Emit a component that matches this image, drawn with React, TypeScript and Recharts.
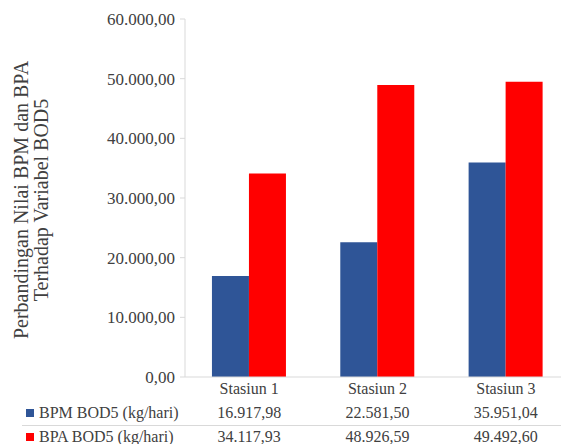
import React from 'react';
import { BarChart, Bar, XAxis, YAxis } from 'recharts';

const categories = ['Stasiun 1', 'Stasiun 2', 'Stasiun 3'];
const bpmValues = [16917.98, 22581.5, 35951.04];
const bpaValues = [34117.93, 48926.59, 49492.6];
const yTicks = [0, 10000, 20000, 30000, 40000, 50000, 60000];
const seriesNames = ['BPM BOD5 (kg/hari)', 'BPA BOD5 (kg/hari)'];
const titleLines = ['Perbandingan Nilai BPM dan BPA', 'Terhadap Variabel BOD5'];

const BLUE = '#2F5597';
const RED = '#FF0000';
const TEXT = '#404040';
const GRID = '#D9D9D9';
const FONT = '"Liberation Serif", "Times New Roman", serif';

const data = categories.map((name, i) => ({ name, bpm: bpmValues[i], bpa: bpaValues[i] }));

// indonesian number format: 60.000,00
const fmt = (v: number) => {
  const [int, dec] = v.toFixed(2).split('.');
  return int.replace(/\B(?=(\d{3})+(?!\d))/g, '.') + ',' + dec;
};

const TableTick = (props: any) => {
  const { x, y, payload, index } = props;
  return (
    <g fontFamily={FONT} fontSize={16} fill={TEXT}>
      <text x={x} y={y + 17} textAnchor="middle">{payload.value}</text>
      <text x={x} y={y + 41} textAnchor="middle">{fmt(bpmValues[index])}</text>
      <text x={x} y={y + 65} textAnchor="middle">{fmt(bpaValues[index])}</text>
    </g>
  );
};

const YTitle = (props: any) => {
  const vb = props.viewBox || { x: 0, y: 19, width: 185, height: 358 };
  const cy = vb.y + vb.height / 2 + 2;
  return (
    <g fontFamily={FONT} fontSize={20} fill={TEXT}>
      {titleLines.map((line, i) => {
        const cx = 21 + i * 20;
        return (
          <text
            key={line}
            x={cx}
            y={cy}
            textAnchor="middle"
            dominantBaseline="central"
            transform={`rotate(-90 ${cx} ${cy})`}
          >
            {line}
          </text>
        );
      })}
    </g>
  );
};

const TableLegend = () => (
  <svg width={570} height={49} style={{ position: 'absolute', left: 0, top: 395 }}>
    <g fontFamily={FONT} fontSize={16} fill={TEXT}>
      <rect x={26} y={14} width={8} height={8} fill={BLUE} />
      <text x={39} y={23}>{seriesNames[0]}</text>
      <line x1={22} x2={570} y1={30.5} y2={30.5} stroke={GRID} strokeWidth={1} />
      <rect x={26} y={38} width={8} height={8} fill={RED} />
      <text x={39} y={47}>{seriesNames[1]}</text>
    </g>
  </svg>
);

export default function App() {
  return (
    <div
      style={{
        position: 'fixed',
        left: 0,
        top: 0,
        width: 561,
        height: 444,
        overflow: 'hidden',
        background: '#ffffff',
      }}
    >
      <BarChart
        width={570}
        height={444}
        data={data}
        margin={{ top: 19, right: 0, bottom: 0, left: 0 }}
        barCategoryGap="21%"
        barGap={0}
      >
        <XAxis
          dataKey="name"
          height={67}
          axisLine={{ stroke: GRID }}
          tickLine={false}
          tickSize={0}
          tickMargin={0}
          interval={0}
          tick={<TableTick />}
        />
        <YAxis
          width={185}
          domain={[0, 60000]}
          ticks={yTicks}
          interval={0}
          tickFormatter={fmt}
          axisLine={{ stroke: GRID }}
          tickLine={{ stroke: GRID }}
          tickSize={5}
          tickMargin={5}
          tick={{ fill: TEXT, fontSize: 17, fontFamily: FONT }}
          label={{ content: (p: any) => <YTitle {...p} /> }}
        />
        <Bar dataKey="bpm" name={seriesNames[0]} fill={BLUE} isAnimationActive={false} />
        <Bar dataKey="bpa" name={seriesNames[1]} fill={RED} isAnimationActive={false} />
      </BarChart>
      <TableLegend />
    </div>
  );
}
